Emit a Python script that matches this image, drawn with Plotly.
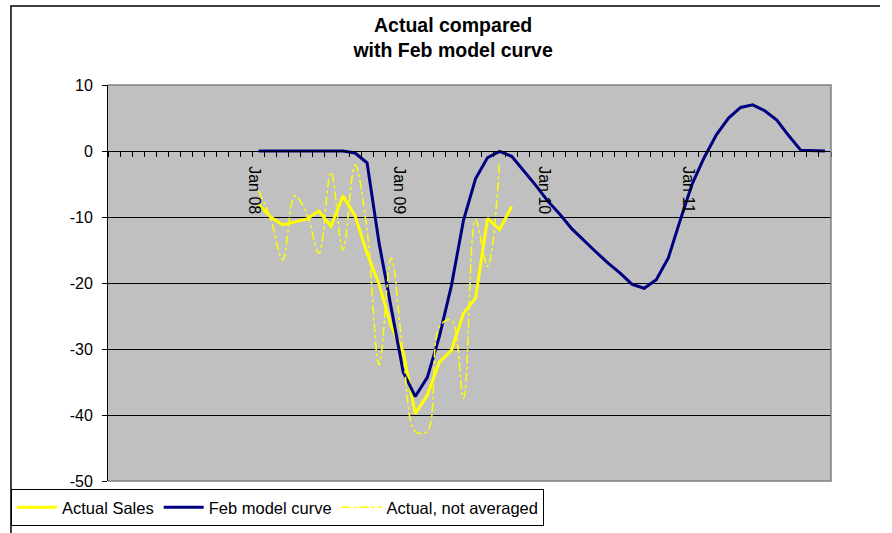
import plotly.graph_objects as go

# category axis: Jan 07 .. Dec 11 (60 months), labels only on Jan 08..Jan 11
month_names = ["Jan", "Feb", "Mar", "Apr", "May", "Jun", "Jul", "Aug", "Sep", "Oct", "Nov", "Dec"]
years = ["07", "08", "09", "10", "11"]
months = [f"{m} {y}" for y in years for m in month_names]
shown_labels = ["Jan 08", "Jan 09", "Jan 10", "Jan 11"]

# Feb model curve, Jan 08 .. Dec 11
model_curve = [0, 0, 0, 0, 0, 0, 0, 0, -0.3, -1.8,
               -14.0, -23.5, -33.5, -37.2, -34.3, -28.1, -20.4, -10.5, -4.2, -1.0,
               -0.05, -0.8, -3.0, -5.2, -7.6, -9.6, -11.8, -13.6, -15.3, -17.0,
               -18.5, -20.2, -20.8, -19.5, -16.2, -10.4, -4.9, -0.9, 2.5, 5.0,
               6.6, 7.0, 6.1, 4.7, 2.3, 0.1, 0, 0]

# Actual sales (3-month average), Jan 08 .. Oct 09
actual_sales = [-8.1, -10.0, -11.2, -10.8, -10.3, -9.1, -11.4, -6.8, -9.8, -15.5,
                -20.2, -26.5, -30.5, -39.8, -37.0, -32.0, -30.2, -24.6, -22.3, -10.2,
                -11.9, -8.4]

# Actual, not averaged, Jan 08 .. Sep 09
actual_raw = [-6.0, -10.3, -16.5, -6.8, -9.5, -15.5, -3.2, -15.0, -2.1, -12.0,
              -32.4, -16.2, -31.0, -42.5, -42.5, -26.6, -25.6, -37.5, -10.4, -17.5,
              -1.5]

y_ticks = [-50, -40, -30, -20, -10, 0, 10]
y_tick_labels = ["-50", "-40", "-30", "-20", "-10", "0", "10"]

start = months.index("Jan 08")
font_family = "Liberation Sans, Arial, sans-serif"

fig = go.Figure()

fig.add_trace(go.Scatter(
    x=months[start:start + len(actual_sales)],
    y=actual_sales,
    mode="lines",
    line=dict(color="#FFFF00", width=3),
    name="Actual Sales",
))
fig.add_trace(go.Scatter(
    x=months[start:start + len(model_curve)],
    y=model_curve,
    mode="lines",
    line=dict(color="#000080", width=3),
    name="Feb model curve",
))
fig.add_trace(go.Scatter(
    x=months[start:start + len(actual_raw)],
    y=actual_raw,
    mode="lines",
    line=dict(color="#FFFF00", width=1.5, dash="dashdot", shape="spline", smoothing=1),
    name="Actual, not averaged",
))

fig.update_layout(
    width=892,
    height=533,
    margin=dict(l=108, r=61, t=85, b=52, autoexpand=False),
    paper_bgcolor="white",
    plot_bgcolor="#C0C0C0",
    font=dict(family=font_family, size=16, color="black"),
    title=dict(
        text="<b>Actual compared<br>with Feb model curve</b>",
        font=dict(family=font_family, size=19.5, color="black"),
        xref="container", x=0.508, xanchor="center",
        yref="container", y=0.94, yanchor="top",
    ),
    showlegend=True,
    legend=dict(
        orientation="h",
        x=-0.1342, y=-0.0202, xanchor="left", yanchor="top",
        bgcolor="white", bordercolor="black", borderwidth=1,
        itemwidth=40,
        font=dict(family=font_family, size=16.5, color="black"),
    ),
)

fig.update_xaxes(
    type="category",
    categoryorder="array",
    categoryarray=months,
    range=[-0.5, len(months) - 0.5],
    anchor="free",
    position=50 / 60,
    showline=True, linecolor="black", linewidth=1,
    ticks="outside", ticklen=5, tickcolor="black",
    tickson="boundaries",
    tickmode="array",
    tickvals=months,
    ticktext=[m if m in shown_labels else "" for m in months],
    tickangle=90,
    ticklabelstandoff=11,
    ticklabelshift=-4,
    showgrid=False,
)
fig.update_yaxes(
    range=[-50, 10],
    tickmode="array",
    tickvals=y_ticks,
    ticktext=y_tick_labels,
    showgrid=True, gridcolor="black", gridwidth=1,
    zeroline=False,
    showline=True, linecolor="black", linewidth=1,
    ticks="outside", ticklen=5, tickcolor="black",
    ticklabelstandoff=6,
)

# grey plot-area border (top, right, bottom)
fig.add_shape(type="path", xref="paper", yref="paper",
              path="M 0,1 L 1,1 L 1,0 L 0,0",
              line=dict(color="#808080", width=1.5), layer="above")
# outer chart border (left and top)
fig.add_shape(type="path", xref="paper", yref="paper",
              path="M -0.1342,-0.14 L -0.1342,1.1995 L 1.0678,1.1995",
              line=dict(color="black", width=1.5), layer="above")

# page body has a default margin; drop it so the figure sits at the window origin
fig.write_html("out.html", config={"displayModeBar": False},
               post_script="document.body.style.margin='0';")
